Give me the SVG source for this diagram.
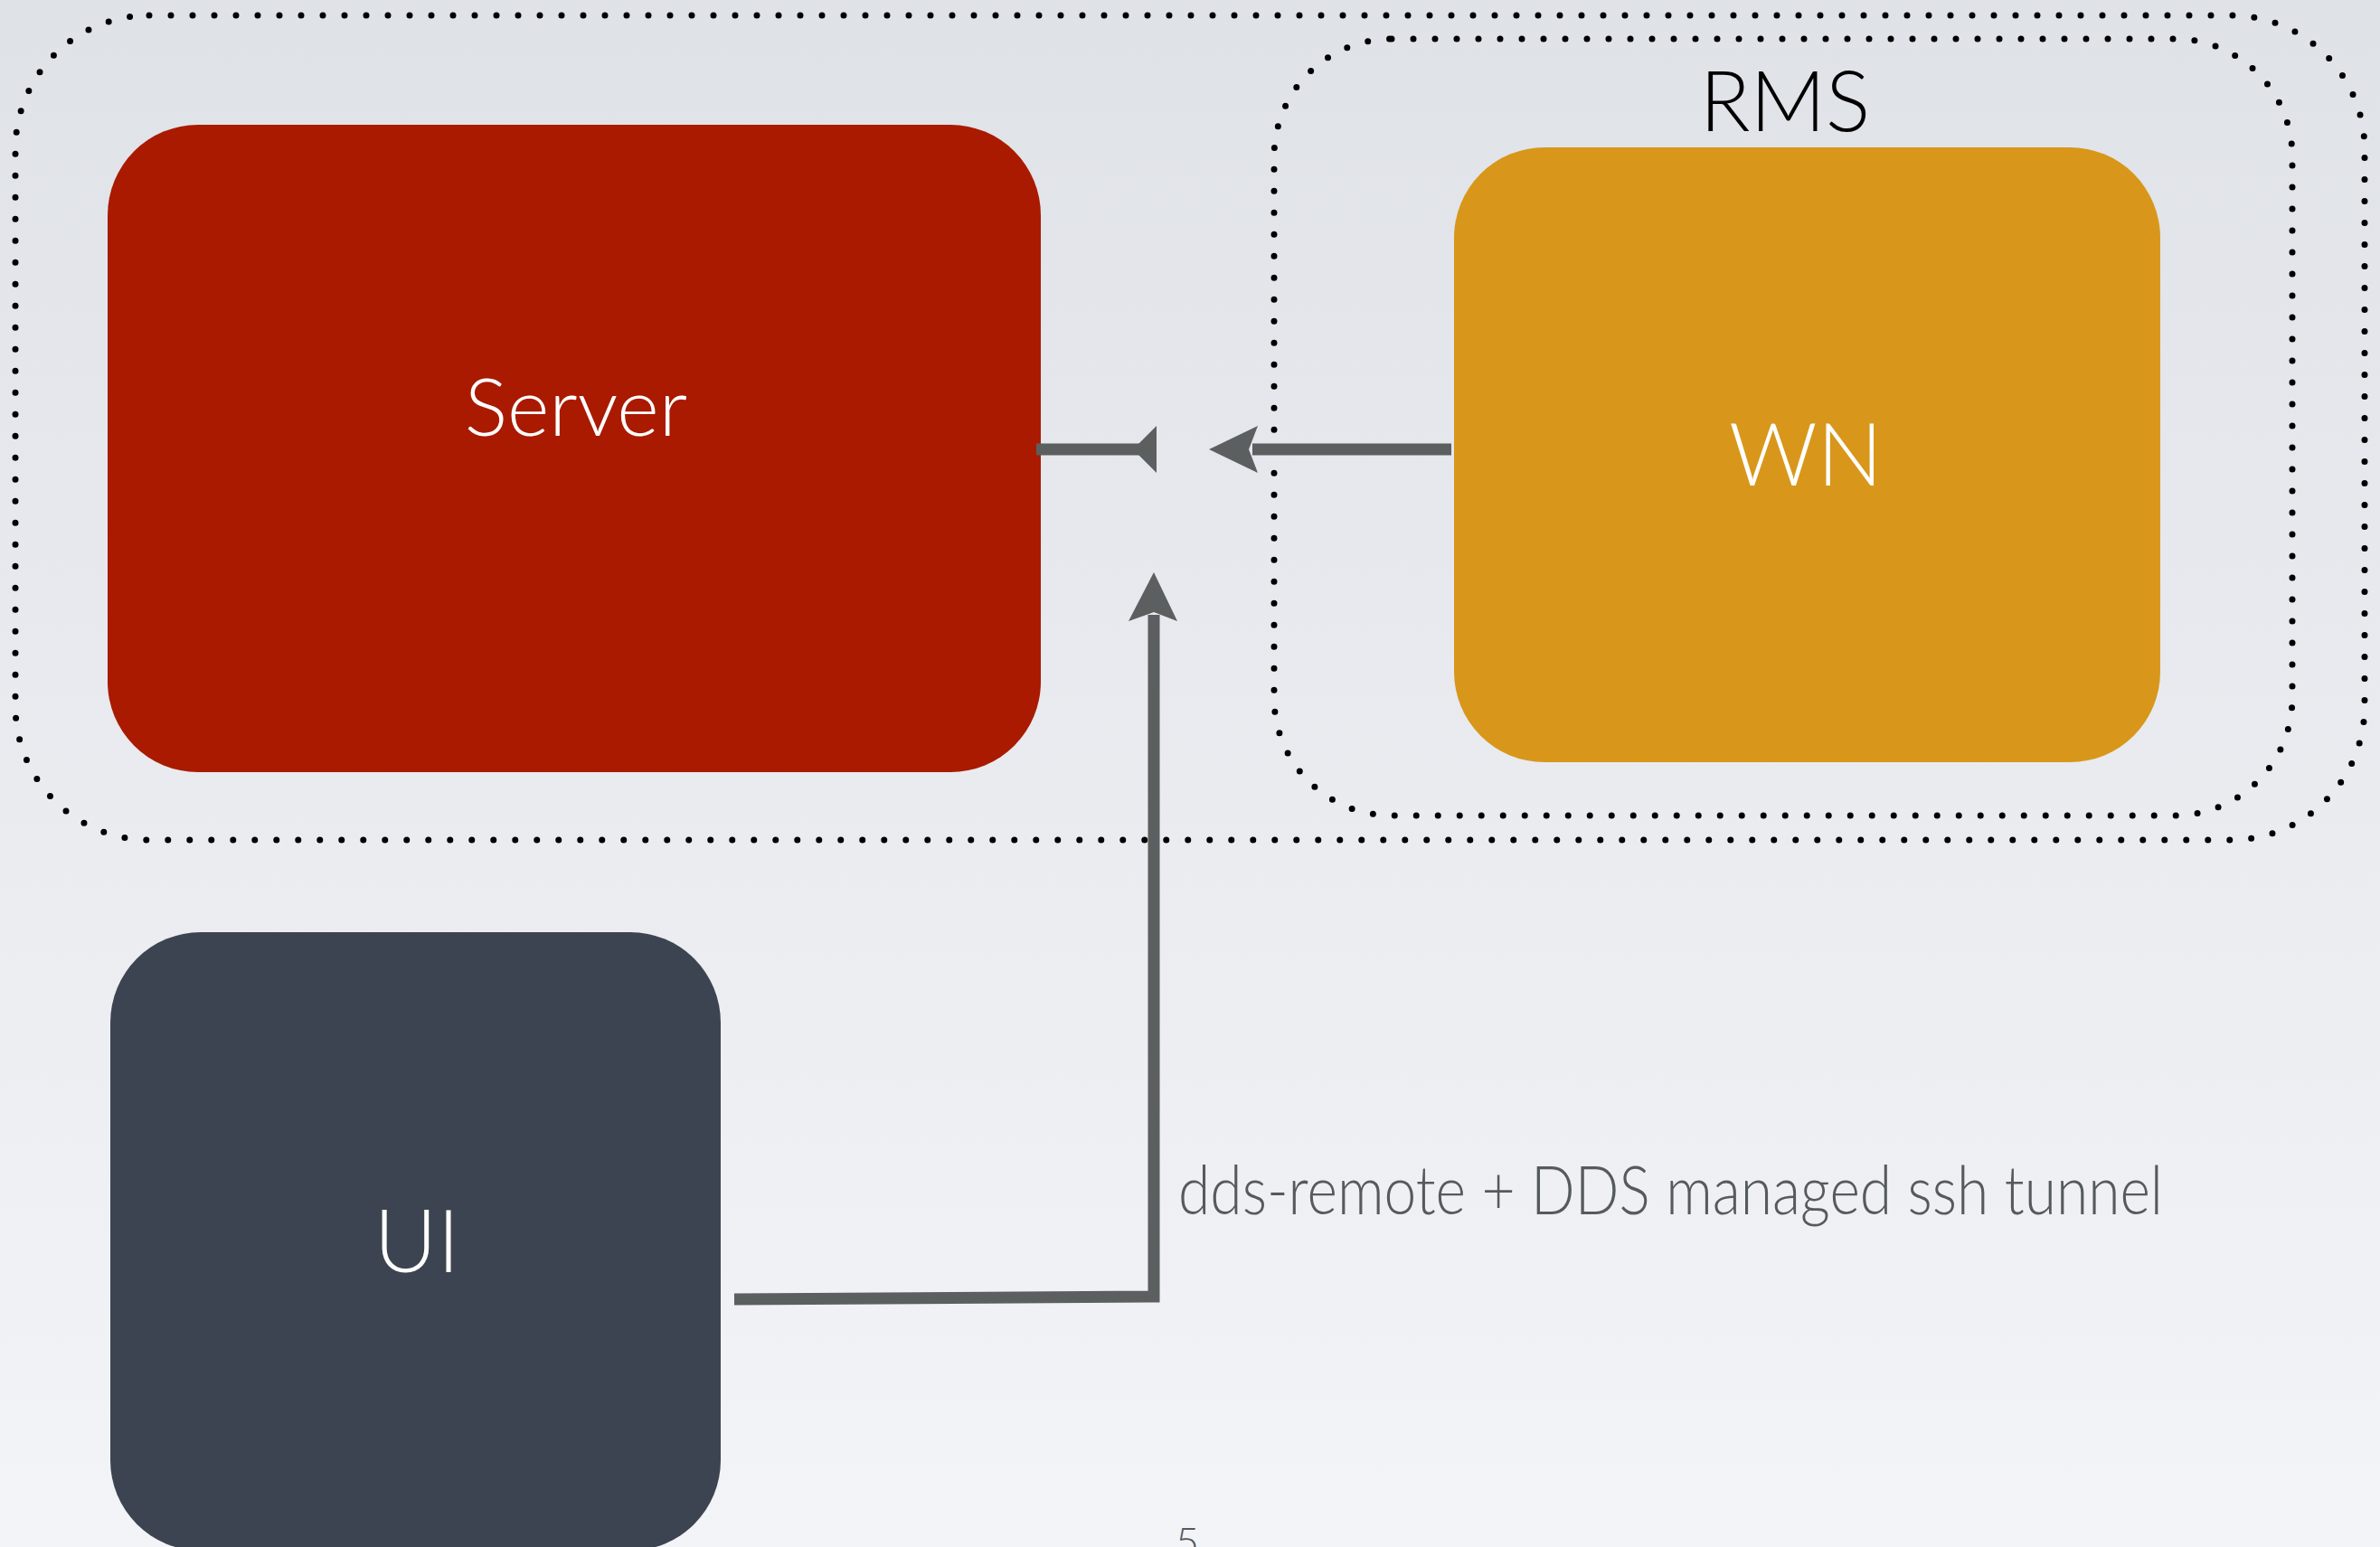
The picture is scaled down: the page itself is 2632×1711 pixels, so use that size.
<svg xmlns="http://www.w3.org/2000/svg" width="2632" height="1711" viewBox="0 0 2632 1711">
<defs>
<linearGradient id="bg" x1="0" y1="0" x2="0" y2="1">
<stop offset="0" stop-color="#dfe2e7"/>
<stop offset="1" stop-color="#f3f4f8"/>
</linearGradient>
<style>
.dot{fill:none;stroke:#000;stroke-width:7;stroke-linecap:round;stroke-dasharray:0 24}
.lbl{font-family:Lato,"Open Sans","Liberation Sans",sans-serif;font-weight:300}
.wt{fill:#ffffff;font-size:96px;text-anchor:middle}
.conn{stroke:#5b5f5f;stroke-width:13;fill:none}
.head{fill:#5b5f5f}
</style>
</defs>
<rect width="2632" height="1711" fill="url(#bg)"/>
<g id="groups">
<rect id="outer" class="dot" x="17" y="17" width="2598" height="912" rx="148" ry="148"/>
<rect id="rms" class="dot" x="1409" y="43" width="1126" height="859" rx="130" ry="130"/>
<text class="lbl" x="1974" y="145" font-size="92" fill="#000" text-anchor="middle">RMS</text>
</g>
<g id="server">
<rect x="119" y="138" width="1032" height="716" rx="100" ry="100" fill="#a91a00"/>
<text class="lbl wt" x="637" y="482" style="font-size:89px">Server</text>
</g>
<g id="wn">
<rect x="1608" y="163" width="781" height="680" rx="100" ry="100" fill="#d8971b"/>
<text class="lbl wt" x="1997" y="537">WN</text>
</g>
<g id="ui">
<rect x="122" y="1031" width="675" height="684" rx="100" ry="100" fill="#3d4451"/>
<text class="lbl wt" x="461" y="1407">UI</text>
</g>
<g id="connectors">
<line class="conn" x1="1146" y1="497" x2="1266" y2="497"/>
<polygon class="head" points="1279,471 1279,523 1253,497"/>
<line class="conn" x1="1605" y1="497" x2="1385" y2="497"/>
<polygon class="head" points="1337,497 1391,471 1381,497 1391,523"/>
<polyline class="conn" points="812,1437 1276,1434 1276,680"/>
<polygon class="head" points="1276,633 1302,687 1276,677 1248,687"/>
<text class="lbl" x="1303" y="1343" font-size="74" fill="#555a5c" textLength="1089" lengthAdjust="spacingAndGlyphs">dds-remote + DDS managed ssh tunnel</text>
</g>
<text class="lbl" x="1313" y="1722" font-size="45" fill="#555a5c" text-anchor="middle">5</text>
</svg>
